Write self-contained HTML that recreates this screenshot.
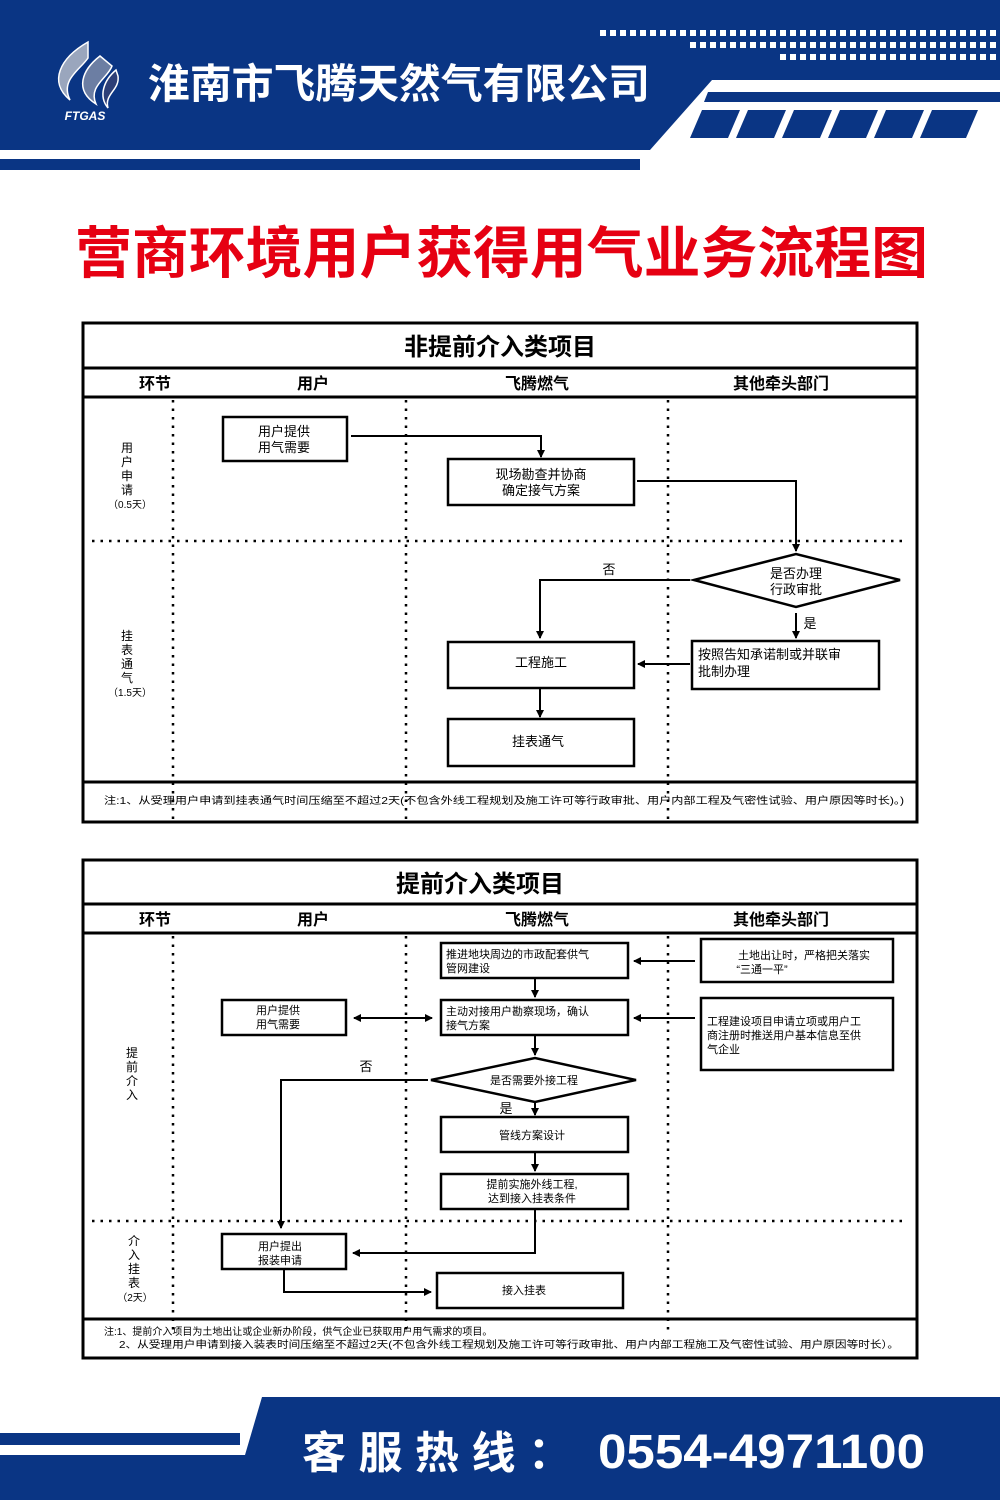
<!DOCTYPE html>
<html><head><meta charset="utf-8"><style>
body{margin:0;background:#fff}
svg text{font-family:"Liberation Sans","Noto Sans CJK SC",sans-serif}
</style></head><body>
<svg width="1000" height="1500" viewBox="0 0 1000 1500" xmlns="http://www.w3.org/2000/svg">
<defs>
<marker id="a" markerWidth="8" markerHeight="8" refX="7" refY="4" orient="auto" markerUnits="userSpaceOnUse"><path d="M0,0 L8,4 L0,8 Z" fill="#000"/></marker>
<marker id="as" markerWidth="8" markerHeight="8" refX="1" refY="4" orient="auto" markerUnits="userSpaceOnUse"><path d="M8,0 L0,4 L8,8 Z" fill="#000"/></marker>
<pattern id="dp" x="0" y="0" width="10" height="6" patternUnits="userSpaceOnUse"><rect x="0" y="0" width="6" height="6" fill="#fff"/></pattern>
</defs>
<rect width="1000" height="1500" fill="#fff"/>
<!-- header -->
<polygon points="0,0 1000,0 1000,80 712,80 650,150 0,150" fill="#0a3584"/>
<rect x="0" y="159" width="640" height="11" fill="#0a3584"/>
<polygon points="708,92 1000,92 1000,102 704,102" fill="#0a3584"/>
<g fill="#0a3584">
<polygon points="702,110 740,110 728,138 690,138"/>
<polygon points="748,110 786,110 774,138 736,138"/>
<polygon points="794,110 832,110 820,138 782,138"/>
<polygon points="840,110 878,110 866,138 828,138"/>
<polygon points="886,110 924,110 912,138 874,138"/>
<polygon points="932,110 978,110 966,138 920,138"/>
</g>
<rect x="598" y="30" width="398" height="6" fill="url(#dp)"/>
<rect x="688" y="42" width="308" height="6" fill="url(#dp)"/>
<rect x="778" y="54" width="218" height="6" fill="url(#dp)"/>
<!-- logo -->
<path d="M88,42 C60,58 48,82 70,100 C60,80 80,70 88,58 Z" fill="#9aa6bd" stroke="#fff" stroke-width="1.5"/>
<path d="M100,56 C82,70 74,90 96,104 C88,86 108,78 112,66 Z" fill="#6c7ea3" stroke="#fff" stroke-width="1.5"/>
<path d="M116,70 C104,80 98,96 108,108 C104,94 120,90 118,76 Z" fill="#2d3f77" stroke="#fff" stroke-width="1.5"/>
<text x="85" y="120" font-size="12" font-weight="bold" font-style="italic" fill="#fff" text-anchor="middle">FTGAS</text>
<text x="148" y="98" font-size="41" font-weight="bold" fill="#fff" textLength="502" lengthAdjust="spacingAndGlyphs">淮南市飞腾天然气有限公司</text>
<!-- main title -->
<text x="75" y="273" font-size="56" font-weight="bold" fill="#e60012" textLength="853" lengthAdjust="spacingAndGlyphs">营商环境用户获得用气业务流程图</text>

<!-- TABLE 1 -->
<g stroke="#000" fill="none">
<rect x="83" y="323" width="834" height="499" stroke-width="3"/>
<line x1="83" y1="368" x2="917" y2="368" stroke-width="3"/>
<line x1="83" y1="397" x2="917" y2="397" stroke-width="3"/>
<line x1="83" y1="782" x2="917" y2="782" stroke-width="3"/>
<g stroke-width="2.5" stroke-dasharray="2.5,6">
<line x1="173" y1="400" x2="173" y2="822"/><line x1="406" y1="400" x2="406" y2="822"/><line x1="668" y1="400" x2="668" y2="822"/>
<line x1="92" y1="541" x2="908" y2="541"/>
</g>
<g stroke-width="2.5">
<rect x="223" y="417" width="124" height="44"/>
<rect x="448" y="459" width="186" height="46"/>
<rect x="692" y="641" width="187" height="48"/>
<rect x="448" y="642" width="186" height="46"/>
<rect x="448" y="719" width="186" height="47"/>
<polygon points="694,580 796,554 900,580 796,607"/>
</g>
<g stroke-width="2">
<polyline points="351,436 541,436 541,457" marker-end="url(#a)"/>
<polyline points="637,481 796,481 796,551" marker-end="url(#a)"/>
<polyline points="690,580 540,580 540,638" marker-end="url(#a)"/>
<line x1="796" y1="613" x2="796" y2="638" marker-end="url(#a)"/>
<line x1="690" y1="664" x2="638" y2="664" marker-end="url(#a)"/>
<line x1="540" y1="688" x2="540" y2="717" marker-end="url(#a)"/>
</g>
</g>
<g fill="#000">
<text x="500" y="355" font-size="24" font-weight="bold" text-anchor="middle">非提前介入类项目</text>
<text x="155" y="389" font-size="16" font-weight="bold" text-anchor="middle">环节</text>
<text x="313" y="389" font-size="16" font-weight="bold" text-anchor="middle">用户</text>
<text x="537" y="389" font-size="16" font-weight="bold" text-anchor="middle">飞腾燃气</text>
<text x="781" y="389" font-size="16" font-weight="bold" text-anchor="middle">其他牵头部门</text>
<g font-size="12" text-anchor="middle">
<text x="127" y="452">用</text><text x="127" y="466">户</text><text x="127" y="480">申</text><text x="127" y="494">请</text>
<text x="130" y="508" font-size="10">（0.5天）</text>
<text x="127" y="640">挂</text><text x="127" y="654">表</text><text x="127" y="668">通</text><text x="127" y="682">气</text>
<text x="130" y="696" font-size="10">（1.5天）</text>
</g>
<g font-size="13" text-anchor="middle">
<text x="284" y="436">用户提供</text><text x="284" y="452">用气需要</text>
<text x="541" y="479">现场勘查并协商</text><text x="541" y="495">确定接气方案</text>
<text x="796" y="578">是否办理</text><text x="796" y="594">行政审批</text>
<text x="541" y="667">工程施工</text>
<text x="538" y="746">挂表通气</text>
<text x="609" y="574">否</text><text x="810" y="628">是</text>
</g>
<text x="698" y="659" font-size="13">按照告知承诺制或并联审</text>
<text x="698" y="676" font-size="13">批制办理</text>
<text x="104" y="804" font-size="10" textLength="800" lengthAdjust="spacingAndGlyphs">注:1、从受理用户申请到挂表通气时间压缩至不超过2天(不包含外线工程规划及施工许可等行政审批、用户内部工程及气密性试验、用户原因等时长)。)</text>
</g>

<!-- TABLE 2 -->
<g stroke="#000" fill="none">
<rect x="83" y="860" width="834" height="498" stroke-width="3"/>
<line x1="83" y1="904" x2="917" y2="904" stroke-width="3"/>
<line x1="83" y1="933" x2="917" y2="933" stroke-width="3"/>
<line x1="83" y1="1319" x2="917" y2="1319" stroke-width="3"/>
<g stroke-width="2.5" stroke-dasharray="2.5,6">
<line x1="173" y1="936" x2="173" y2="1330"/><line x1="406" y1="936" x2="406" y2="1330"/><line x1="668" y1="936" x2="668" y2="1330"/>
<line x1="92" y1="1221" x2="908" y2="1221"/>
</g>
<g stroke-width="2.5">
<rect x="441" y="943" width="187" height="35"/>
<rect x="701" y="939" width="192" height="43"/>
<rect x="441" y="1000" width="187" height="35"/>
<rect x="222" y="1000" width="124" height="35"/>
<rect x="701" y="998" width="192" height="72"/>
<polygon points="431,1080 535,1058 636,1080 535,1102"/>
<rect x="441" y="1117" width="187" height="35"/>
<rect x="441" y="1174" width="187" height="35"/>
<rect x="222" y="1234" width="124" height="35"/>
<rect x="437" y="1273" width="186" height="35"/>
</g>
<g stroke-width="2">
<line x1="695" y1="961" x2="634" y2="961" marker-end="url(#a)"/>
<line x1="535" y1="978" x2="535" y2="997" marker-end="url(#a)"/>
<line x1="354" y1="1018" x2="432" y2="1018" marker-start="url(#as)" marker-end="url(#a)"/>
<line x1="695" y1="1018" x2="634" y2="1018" marker-end="url(#a)"/>
<line x1="535" y1="1035" x2="535" y2="1055" marker-end="url(#a)"/>
<polyline points="428,1080 281,1080 281,1228" marker-end="url(#a)"/>
<line x1="535" y1="1102" x2="535" y2="1115" marker-end="url(#a)"/>
<line x1="535" y1="1152" x2="535" y2="1171" marker-end="url(#a)"/>
<polyline points="535,1209 535,1253 353,1253" marker-end="url(#a)"/>
<polyline points="284,1269 284,1292 431,1292" marker-end="url(#a)"/>
</g>
</g>
<g fill="#000">
<text x="480" y="892" font-size="24" font-weight="bold" text-anchor="middle">提前介入类项目</text>
<text x="155" y="925" font-size="16" font-weight="bold" text-anchor="middle">环节</text>
<text x="313" y="925" font-size="16" font-weight="bold" text-anchor="middle">用户</text>
<text x="537" y="925" font-size="16" font-weight="bold" text-anchor="middle">飞腾燃气</text>
<text x="781" y="925" font-size="16" font-weight="bold" text-anchor="middle">其他牵头部门</text>
<g font-size="12" text-anchor="middle">
<text x="132" y="1057">提</text><text x="132" y="1071">前</text><text x="132" y="1085">介</text><text x="132" y="1099">入</text>
<text x="134" y="1245">介</text><text x="134" y="1259">入</text><text x="134" y="1273">挂</text><text x="134" y="1287">表</text>
<text x="135" y="1301" font-size="10">（2天）</text>
</g>
<g font-size="11">
<text x="446" y="958">推进地块周边的市政配套供气</text><text x="446" y="972">管网建设</text>
<text x="446" y="1015">主动对接用户勘察现场，确认</text><text x="446" y="1029">接气方案</text>
<text x="707" y="1025">工程建设项目申请立项或用户工</text><text x="707" y="1039">商注册时推送用户基本信息至供</text><text x="707" y="1053">气企业</text>
</g>
<g font-size="11" text-anchor="middle">
<text x="804" y="959">土地出让时，严格把关落实</text><text x="762" y="973">“三通一平”</text>
<text x="278" y="1014">用户提供</text><text x="278" y="1028">用气需要</text>
<text x="534" y="1084">是否需要外接工程</text>
<text x="532" y="1139">管线方案设计</text>
<text x="532" y="1188">提前实施外线工程,</text><text x="532" y="1202">达到接入挂表条件</text>
<text x="280" y="1250">用户提出</text><text x="280" y="1264">报装申请</text>
<text x="524" y="1294">接入挂表</text>
<text x="366" y="1071" font-size="13">否</text><text x="506" y="1113" font-size="13">是</text>
</g>
<text x="104" y="1335" font-size="10">注:1、提前介入项目为土地出让或企业新办阶段，供气企业已获取用户用气需求的项目。</text>
<text x="119" y="1348" font-size="10" textLength="780" lengthAdjust="spacingAndGlyphs">2、从受理用户申请到接入装表时间压缩至不超过2天(不包含外线工程规划及施工许可等行政审批、用户内部工程施工及气密性试验、用户原因等时长）。</text>
</g>

<!-- footer -->
<polygon points="262,1397 1000,1397 1000,1500 0,1500 0,1455 245,1455" fill="#0a3584"/>
<rect x="0" y="1433" width="240" height="12" fill="#0a3584"/>
<text x="302" y="1468" font-size="44" font-weight="bold" fill="#fff" textLength="270" lengthAdjust="spacing">客服热线：</text>
<text x="598" y="1468" font-size="48" font-weight="bold" fill="#fff" textLength="327" lengthAdjust="spacingAndGlyphs">0554-4971100</text>
</svg>
</body></html>
